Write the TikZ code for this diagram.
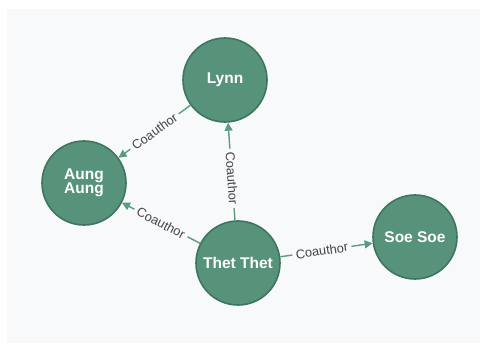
\documentclass[tikz,border=0pt]{standalone}
\usepackage{fontspec}
\setmainfont{Liberation Sans}
\usetikzlibrary{arrows.meta}
\definecolor{panel}{HTML}{F8F9FB}
\definecolor{nodefill}{HTML}{57937B}
\definecolor{nodeline}{HTML}{3E7560}
\definecolor{edgecol}{HTML}{5B9A83}
\definecolor{lbltext}{HTML}{454545}
\tikzset{
  person/.style={circle, fill=nodefill, draw=nodeline, line width=1.6pt,
    minimum size=84pt, inner sep=0pt, text=white, align=center,
    font=\fontsize{15.5}{15}\selectfont\bfseries},
  edge/.style={draw=edgecol, line width=1.4pt,
    -{Triangle[length=8pt,width=8pt]}},
  lbl/.style={fill=panel, text=lbltext, inner sep=3.5pt, sloped,
    font=\fontsize{12.8}{12}\selectfont}
}
\begin{document}
\begin{tikzpicture}[x=1pt, y=-1pt]
  % canvas and light panel
  \fill[white] (0,0) rectangle (480,345);
  \fill[panel] (7,9) rectangle (480,343);
  \useasboundingbox (0,0) rectangle (480,345);

  % people
  \node[person] (lynn) at (225,80) {Lynn};
  \node[person] (aung) at (84,183) {Aung\\[-1pt]Aung};
  \node[person] (thet) at (238,263) {Thet Thet};
  \node[person] (soe)  at (415,237) {Soe Soe};

  % coauthor links
  \draw[edge] (lynn) -- node[lbl] {Coauthor} (aung);
  \draw[edge] (thet) -- node[lbl] {Coauthor} (aung);
  \draw[edge] (thet) -- node[lbl, pos=0.43] {Coauthor} (lynn);
  \draw[edge] (thet) -- node[lbl, pos=0.45] {Coauthor} (soe);
\end{tikzpicture}
\end{document}
